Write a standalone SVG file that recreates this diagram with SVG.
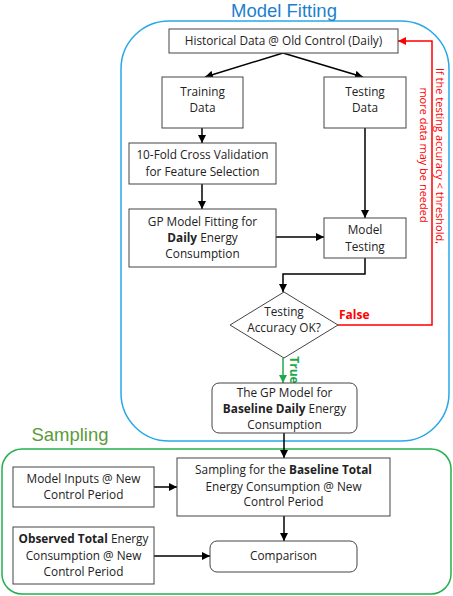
<svg xmlns="http://www.w3.org/2000/svg" width="453" height="596" viewBox="0 0 453 596">
<defs>
<marker id="ah" viewBox="0 0 10 10" refX="10" refY="5" markerWidth="8" markerHeight="8" markerUnits="userSpaceOnUse" orient="auto"><path d="M0,0 L10,5 L0,10 z" fill="#000"/></marker>
<marker id="ahr" viewBox="0 0 10 10" refX="10" refY="5" markerWidth="8" markerHeight="8" markerUnits="userSpaceOnUse" orient="auto"><path d="M0,0 L10,5 L0,10 z" fill="#ff0000"/></marker>
<marker id="ahg" viewBox="0 0 10 10" refX="10" refY="5" markerWidth="8" markerHeight="8" markerUnits="userSpaceOnUse" orient="auto"><path d="M0,0 L10,5 L0,10 z" fill="#22a84a"/></marker>
</defs>
<style>
text{font-family:"Open Sans","Liberation Sans",sans-serif;font-size:11.8px;fill:#222;text-anchor:middle}
.box{fill:#fff;stroke:#444;stroke-width:1}
.c{fill:none;stroke:#000;stroke-width:1.5;marker-end:url(#ah)}
.title{font-family:"Liberation Sans",Arial,sans-serif;font-size:18.5px}
</style>
<rect x="121" y="21" width="328" height="420" rx="48" fill="none" stroke="#29a8e6" stroke-width="1.5"/>
<text class="title" x="284" y="17" style="fill:#1c7fcf">Model Fitting</text>
<rect x="2" y="449" width="449" height="145" rx="20" fill="none" stroke="#22b14c" stroke-width="1.5"/>
<text class="title" x="70" y="441" style="fill:#5b9a3a">Sampling</text>

<g id="connectors">
<line class="c" x1="283" y1="53" x2="205" y2="77"/>
<line class="c" x1="283" y1="53" x2="363" y2="77"/>
<line class="c" x1="202" y1="128" x2="202" y2="143"/>
<line class="c" x1="365" y1="128" x2="365" y2="218"/>
<line class="c" x1="202" y1="184" x2="202" y2="209"/>
<line class="c" x1="276" y1="237" x2="324" y2="237"/>
<polyline class="c" points="365,258 365,274 283,274 283,292"/>
<polyline points="338,325 432,325 432,41 398,41" fill="none" stroke="#ff0000" stroke-width="1.5" marker-end="url(#ahr)"/>
<line x1="283" y1="358" x2="283" y2="383" stroke="#22a84a" stroke-width="1.5" marker-end="url(#ahg)"/>
<line class="c" x1="284" y1="433" x2="284" y2="458"/>
<line class="c" x1="154" y1="487" x2="177" y2="487"/>
<line class="c" x1="284" y1="516" x2="284" y2="541"/>
<line class="c" x1="154" y1="556" x2="210" y2="556"/>
<text x="339" y="319" style="fill:#ff0000;font-weight:bold;font-size:12px;text-anchor:start">False</text>
<text transform="translate(290,370) rotate(90)" style="fill:#22a84a;font-weight:bold;font-size:12px">True</text>
<text transform="translate(436,156) rotate(90)" style="fill:#ff0000;font-size:11px">If the testing accuracy &lt; threshold,</text>
<text transform="translate(420,155) rotate(90)" style="fill:#ff0000;font-size:11px">more data may be needed</text>
</g>

<g id="historical"><rect class="box" x="169" y="29" width="229" height="24"/><text x="283.5" y="45">Historical Data @ Old Control (Daily)</text></g>
<g id="training"><rect class="box" x="162" y="77" width="81" height="51"/><text x="202.5" y="96">Training</text><text x="202.5" y="112">Data</text></g>
<g id="testing"><rect class="box" x="324" y="77" width="82" height="51"/><text x="365" y="96">Testing</text><text x="365" y="112">Data</text></g>
<g id="crossval"><rect class="box" x="129" y="143" width="147" height="41"/><text x="202.5" y="159">10-Fold Cross Validation</text><text x="202.5" y="176">for Feature Selection</text></g>
<g id="gpfit"><rect class="box" x="129" y="209" width="147" height="58"/><text x="202.5" y="226">GP Model Fitting for</text><text x="202.5" y="242"><tspan font-weight="bold">Daily</tspan> Energy</text><text x="202.5" y="258">Consumption</text></g>
<g id="modeltesting"><rect class="box" x="324" y="218" width="82" height="40"/><text x="365" y="234">Model</text><text x="365" y="251">Testing</text></g>
<g id="decision"><polygon class="box" points="284,292 338,325 284,358 230,325"/><text x="284" y="316">Testing</text><text x="284" y="332">Accuracy OK?</text></g>
<g id="gpmodel"><rect class="box" x="212" y="383" width="145" height="50" rx="7"/><text x="284.5" y="397">The GP Model for</text><text x="284.5" y="413"><tspan font-weight="bold">Baseline Daily</tspan> Energy</text><text x="284.5" y="429">Consumption</text></g>
<g id="sampling"><rect class="box" x="177" y="458" width="213" height="58"/><text x="283.5" y="474">Sampling for the <tspan font-weight="bold">Baseline Total</tspan></text><text x="283.5" y="491">Energy Consumption @ New</text><text x="283.5" y="506">Control Period</text></g>
<g id="inputs"><rect class="box" x="13" y="467" width="141" height="40"/><text x="83.5" y="483">Model Inputs @ New</text><text x="83.5" y="499">Control Period</text></g>
<g id="observed"><rect class="box" x="13" y="527" width="141" height="57"/><text x="83.5" y="543"><tspan font-weight="bold">Observed Total</tspan> Energy</text><text x="83.5" y="560">Consumption @ New</text><text x="83.5" y="576">Control Period</text></g>
<g id="comparison"><rect class="box" x="210" y="541" width="147" height="31" rx="7"/><text x="283.5" y="560">Comparison</text></g>
</svg>
